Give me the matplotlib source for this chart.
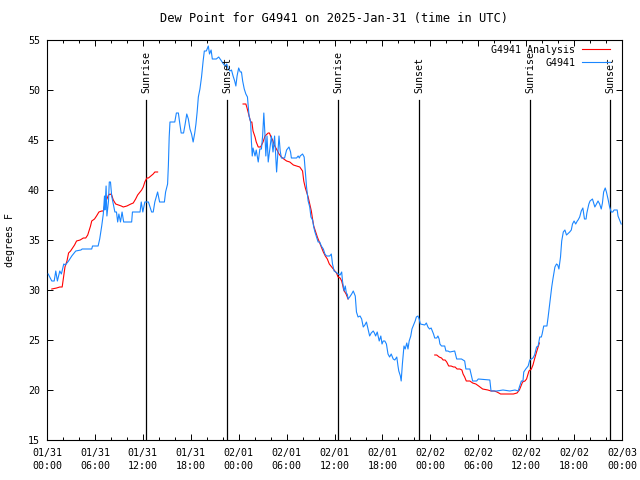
import matplotlib
matplotlib.use('Agg')
import matplotlib.pyplot as plt
import matplotlib.dates as mdates
import matplotlib.transforms as mtransforms
from matplotlib.ticker import AutoMinorLocator, MultipleLocator
import numpy as np
import pandas as pd

# Hours after 2025-01-31 00:00 UTC and dew point (F)
obs_hours = [0.15, 0.6, 0.9, 1.1, 1.3, 1.6, 1.8, 2.1, 2.3, 2.7, 3.1, 3.6, 4.25, 4.4, 5.6, 5.7, 6.4, 6.6,
             6.85, 7.05, 7.2, 7.25, 7.4, 7.5, 7.7, 7.8, 7.95, 8.1, 8.3, 8.5, 8.7, 8.85, 9.0, 9.2, 9.4,
             9.6, 10.6, 10.7, 11.65, 11.8, 12.0, 12.25, 12.7, 12.9, 13.1, 13.3, 13.5, 13.85, 14.1, 14.7,
             14.85, 15.1, 15.2, 15.3, 15.4, 15.5, 16.0, 16.2, 16.45, 16.6, 16.8, 17.1, 17.3, 17.5, 17.7,
             17.9, 18.1, 18.3, 18.5, 18.65, 18.8, 18.95, 19.15, 19.35, 19.55, 19.7, 19.95, 20.2, 20.35,
             20.55, 20.7, 20.95, 21.2, 21.5, 21.85, 22.0, 22.3, 22.5, 22.7, 22.9, 23.1, 23.3, 23.5,
             23.65, 23.8, 24.0, 24.2, 24.35, 24.5, 24.7, 24.9, 25.1, 25.2, 25.3, 25.5, 25.6, 25.7, 25.8,
             26.05, 26.2, 26.45, 26.65, 26.85, 27.0, 27.15, 27.3, 27.4, 27.55, 27.7, 27.9, 28.1, 28.3,
             28.5, 28.75, 28.95, 29.05, 29.2, 29.35, 29.75, 30.0, 30.3, 30.5, 30.6, 31.25, 31.45, 31.6,
             31.7, 32.0, 32.2, 32.4, 32.5, 32.7, 32.9, 33.05, 33.25, 33.4, 33.55, 33.75, 33.95, 34.15,
             34.35, 34.6, 34.8, 35.0, 35.4, 35.6, 35.75, 35.95, 36.15, 36.45, 36.7, 36.9, 37.0, 37.2,
             37.35, 37.5, 37.6, 37.7, 37.9, 38.15, 38.35, 38.6, 38.75, 38.95, 39.2, 39.4, 39.6, 39.8,
             40.0, 40.2, 40.4, 40.6, 40.85, 41.0, 41.15, 41.35, 41.6, 41.8, 41.95, 42.1, 42.3, 42.5,
             42.7, 42.9, 43.1, 43.35, 43.55, 43.8, 43.95, 44.05, 44.25, 44.35, 44.5, 44.7, 44.85, 45.05,
             45.2, 45.35, 45.55, 45.7, 45.85, 46.1, 46.25, 46.45, 46.6, 46.75, 47.3, 47.5, 47.7, 47.9,
             48.1, 48.4, 48.55, 48.8, 48.95, 49.1, 49.2, 49.4, 49.8, 49.95, 50.2, 50.45, 51.05, 51.3,
             51.9, 52.3, 52.45, 52.95, 53.15, 53.3, 53.8, 54.0, 55.45, 55.6, 56.3, 57.1, 57.95, 58.6,
             59.0, 59.15, 59.4, 59.6, 59.7, 59.95, 60.25, 60.45, 60.85, 61.05, 61.3, 61.5, 61.7, 61.9,
             62.0, 62.2, 62.45, 62.6, 62.75, 62.9, 63.05, 63.2, 63.35, 63.6, 63.8, 63.95, 64.1, 64.3,
             64.45, 64.65, 64.85, 65.05, 65.45, 65.65, 65.8, 66.0, 66.2, 66.4, 66.5, 66.7, 66.9, 67.1,
             67.3, 67.5, 67.6, 67.85, 68.0, 68.3, 68.45, 68.6, 68.8, 69.0, 69.2, 69.4, 69.55, 69.7,
             69.9, 70.05, 70.25, 70.45, 70.65, 70.85, 71.0, 71.2, 71.4, 71.5, 71.8, 71.9]
obs_dewpt = [31.6, 30.9, 30.9, 31.9, 30.9, 31.9, 31.6, 32.6, 32.5, 32.9, 33.4, 33.9, 34.0, 34.1, 34.1, 34.4, 34.4, 35.1,
             36.4, 37.6, 39.4, 38.0, 40.4, 37.4, 38.9, 40.8, 40.8, 39.4, 38.6, 37.8, 37.8, 36.8, 37.6, 36.8, 37.8,
             36.8, 36.8, 37.8, 37.8, 38.8, 37.8, 38.8, 38.8, 38.3, 37.8, 37.8, 38.8, 39.8, 38.8, 38.8,
             39.8, 40.6, 42.5, 45.3, 46.8, 46.8, 46.8, 47.7, 47.7, 46.8, 45.7, 45.7, 46.6, 47.6, 47.1,
             46.1, 45.6, 44.8, 45.7, 46.6, 47.8, 49.3, 50.1, 51.3, 52.9, 53.9, 53.9, 54.4, 53.6,
             54.0, 53.1, 53.1, 53.1, 53.3, 52.9, 52.7, 52.4, 52.6, 52.1, 51.9, 52.0, 51.4, 50.9,
             50.4, 51.4, 52.2, 51.8, 51.8, 50.9, 50.1, 49.6, 49.3, 48.4, 47.4, 46.8, 44.8, 43.4, 44.2,
             43.4, 44.0, 42.8, 44.1, 44.1, 45.4, 47.7, 45.4, 43.4, 45.4, 42.8, 44.1, 45.4, 43.8,
             45.4, 41.8, 44.3, 45.4, 43.9, 43.2, 43.2, 44.0, 44.3, 43.8, 43.2, 43.2, 43.4, 43.2,
             43.4, 43.6, 43.3, 41.3, 40.3, 38.9, 38.3, 37.3, 37.0, 36.3, 35.8, 35.3, 34.8, 34.8,
             34.4, 34.1, 33.6, 33.4, 33.4, 33.6, 32.6, 31.9, 31.8, 31.6, 31.5, 31.8, 30.9, 29.9,
             30.4, 29.6, 29.6, 29.1, 29.3, 29.6, 29.9, 29.4, 27.8, 27.3, 27.4, 27.1, 26.3, 26.5,
             26.8, 26.1, 25.4, 25.7, 25.9, 25.7, 25.4, 25.8, 24.9, 25.4, 24.6, 24.9, 24.9, 24.6,
             23.6, 23.3, 23.6, 23.1, 23.0, 23.3, 22.4, 21.9, 21.4, 20.9, 22.6, 24.4, 24.1, 24.7,
             24.1, 24.9, 25.4, 26.1, 26.4, 26.9, 27.3, 27.4, 27.1, 26.6, 26.5, 26.7, 26.3, 26.1,
             26.2, 25.6, 25.2, 25.2, 25.4, 25.1, 24.6, 24.4, 24.4, 23.9, 23.9, 23.8, 23.9, 23.1,
             23.1, 22.9, 22.1, 22.1, 21.4, 20.9, 20.9, 21.1, 21.0, 19.9, 19.9, 20.0, 19.9, 20.0,
             19.9, 20.3, 20.9, 20.9, 21.8, 22.1, 22.4, 23.0, 23.2, 23.5, 24.3, 24.4, 25.3, 25.3,
             25.6, 26.4, 26.4, 26.4, 27.3, 28.3, 29.3, 30.3, 31.1, 32.3, 32.6, 32.5, 32.1, 33.3,
             34.9, 35.8, 36.0, 35.5, 35.8, 36.0, 36.6, 36.9, 36.6, 36.9, 37.0, 37.3, 37.9, 38.2,
             37.1, 37.1, 37.7, 38.6, 38.9, 39.1, 38.7, 38.3, 38.6, 38.9, 38.6, 38.1, 38.7, 39.8,
             40.2, 39.8, 39.1, 38.3, 37.8, 37.8, 38.0, 38.0, 38.0, 37.4, 36.8, 36.6]

# Analysis runs (NaN separates the three runs)
ana_hours = [0.6, 1.2, 1.6, 1.9, 2.1, 2.25, 2.5, 2.7, 2.95, 3.2, 3.45, 3.7, 4.15, 4.55, 4.85, 5.1, 5.25,
             5.45, 5.6, 5.95, 6.2, 6.5, 6.85, 7.05, 7.25, 7.5, 7.7, 7.9, 8.1, 8.3, 8.6, 8.95, 9.3, 9.55,
             10.0, 10.25, 10.5, 10.8, 11.1, 11.35, 11.65, 11.85, 12.05, 12.25, 12.5, 12.7, 13.0, 13.3,
             13.5, 13.85, 14.0,
             24.55, 24.9, 25.05, 25.3, 25.5, 25.65, 25.8, 26.05, 26.2, 26.45, 26.75, 27.05, 27.3, 27.7,
             27.85, 28.05, 28.25, 28.45, 28.8, 29.05, 29.35, 29.65, 30.0, 30.4, 30.85, 31.25, 31.65,
             32.0, 32.15, 32.35, 32.5, 32.7, 32.9, 33.1, 33.25, 33.4, 33.6, 33.85, 34.1, 34.35, 34.6,
             34.85, 35.1, 35.35, 35.65, 35.85, 36.05, 36.25, 36.45, 36.7, 36.9, 37.05, 37.15, 37.45,
             37.7, 37.8,
             48.55, 48.8, 49.1, 49.4, 49.6, 49.85, 50.05, 50.3, 50.6, 50.9, 51.1, 51.35, 51.7, 51.95,
             52.1, 52.3, 52.5, 52.95, 53.3, 53.7, 54.05, 54.55, 55.2, 55.6, 56.0, 56.35, 56.8, 57.6,
             58.4, 58.85, 59.15, 59.3, 59.55, 59.85, 60.05, 60.2, 60.35, 60.65, 60.85, 61.05, 61.3,
             61.5, 61.65]
ana_dewpt = [30.1, 30.2, 30.3, 30.3, 31.4, 32.3, 32.9, 33.7, 33.9, 34.2, 34.5, 34.9, 35.0, 35.2, 35.2, 35.5, 35.9,
             36.4, 36.9, 37.1, 37.4, 37.8, 37.9, 37.9, 38.6, 39.1, 39.5, 39.6, 39.5, 39.0, 38.6, 38.5, 38.4, 38.3,
             38.4, 38.5, 38.6, 38.7, 39.1, 39.5, 39.8, 40.0, 40.3, 40.8, 41.2, 41.2, 41.4, 41.6,
             41.8, 41.8, np.nan,
             48.6, 48.6, 48.2, 47.4, 46.8, 46.8, 45.9, 45.3, 44.8, 44.3, 44.3, 44.8, 45.4, 45.7,
             45.7, 45.3, 45.0, 44.5, 44.0, 43.6, 43.3, 43.1, 42.9, 42.8, 42.5, 42.4, 42.3,
             41.9, 40.9, 40.2, 39.8, 39.3, 38.6, 37.9, 37.1, 36.4, 35.9, 35.3, 34.8, 34.3, 33.8,
             33.4, 33.1, 32.6, 32.3, 32.1, 31.9, 31.7, 31.3, 31.2, 30.9, 30.4, 30.0, 29.6,
             29.1, np.nan,
             23.5, 23.5, 23.3, 23.2, 23.0, 23.0, 22.8, 22.4, 22.4, 22.3, 22.3, 22.1, 22.1, 22.0,
             21.6, 21.3, 20.9, 20.9, 20.7, 20.6, 20.4, 20.1, 20.0, 19.9, 19.9, 19.8, 19.6, 19.6,
             19.6, 19.7, 20.0, 20.3, 20.8, 20.9, 21.1, 21.5, 21.9, 22.1, 22.5, 23.1, 23.8,
             24.3, 24.7]

sun_hours = [12.43, 22.57, 36.46, 46.6, 60.49, 70.5]
sun_labels = ['Sunrise', 'Sunset', 'Sunrise', 'Sunset', 'Sunrise', 'Sunset']

start = pd.Timestamp('2025-01-31 00:00')
def to_time(hours):
    return [start + pd.Timedelta(hours=h) for h in hours]

plt.rcParams['font.family'] = 'DejaVu Sans Mono'
plt.rcParams['font.size'] = 7.2

fig = plt.figure(figsize=(6.4, 4.8), dpi=100)
ax = fig.add_axes([47 / 640, 40 / 480, 575 / 640, 400 / 480])

ax.plot(to_time(ana_hours), ana_dewpt, color='#ff0000', lw=0.8, label='G4941 Analysis', zorder=2)
ax.plot(to_time(obs_hours), obs_dewpt, color='#1a86ff', lw=0.8, label='G4941', zorder=3)

# sunrise / sunset markers
trans = mtransforms.blended_transform_factory(ax.transData, ax.transAxes)
for h, lab in zip(sun_hours, sun_labels):
    t = mdates.date2num(start + pd.Timedelta(hours=h))
    ax.plot([t, t], [0, 0.85], color='black', lw=0.9, transform=trans, zorder=1)
    ax.text(t, 0.868, lab, rotation=90, ha='center', va='bottom', transform=trans)

ax.set_xlim(start, start + pd.Timedelta(hours=72))
ax.set_ylim(15, 55)
ax.yaxis.set_major_locator(MultipleLocator(5))
ax.xaxis.set_major_locator(mdates.HourLocator(byhour=[0, 6, 12, 18]))
ax.xaxis.set_minor_locator(AutoMinorLocator(3))
ax.xaxis.set_major_formatter(mdates.DateFormatter('%m/%d\n%H:%M'))

ax.tick_params(which='both', direction='in', top=True, right=True, width=0.7, colors='black')
ax.tick_params(which='major', length=4.5)
ax.tick_params(which='minor', length=2.5)
ax.tick_params(axis='x', pad=6)
ax.tick_params(axis='y', pad=5)
for lab in ax.get_xticklabels():
    lab.set_linespacing(1.35)
for sp in ax.spines.values():
    sp.set_linewidth(0.8)

ax.set_title('Dew Point for G4941 on 2025-Jan-31 (time in UTC)', pad=13)
ax.set_ylabel('degrees F')
ax.yaxis.set_label_coords(-0.055, 0.5)

ax.legend(loc='upper right', bbox_to_anchor=(0.983, 0.993), frameon=False, markerfirst=False,
          handlelength=2.8, handletextpad=0.7, labelspacing=0.3, borderpad=0.2, borderaxespad=0)

plt.savefig('out.png', dpi=100)
plt.close()
